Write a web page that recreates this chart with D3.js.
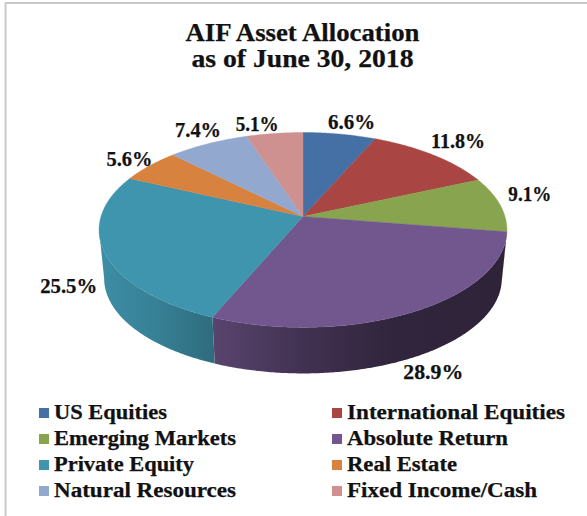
<!DOCTYPE html>
<html><head><meta charset="utf-8">
<script src="https://cdn.jsdelivr.net/npm/d3@7"></script>
<style>html,body{margin:0;padding:0;background:#fff}svg{display:block}text{font-family:"Liberation Serif",serif;font-weight:700;fill:#111;stroke:#111;stroke-width:0.25px}</style>
</head><body><div id="chart"></div>
<script>
const categories = ["US Equities","International Equities","Emerging Markets","Absolute Return","Private Equity","Real Estate","Natural Resources","Fixed Income/Cash"];
const values = [6.6,11.8,9.1,28.9,25.5,5.6,7.4,5.1];
const colors = ["#4470a6","#a94543","#88a44e","#72578e","#4095ae","#d88240","#92a8ce","#cf9190"];
const titleLines = ["AIF Asset Allocation","as of June 30, 2018"];

// layout only
const W=587,H=516, persp=0.138, depth=48.8, lowerScale=0.975;
const labelNudge=[[12,-11],[25,-13],[30,-9],[19,61],[-36,34],[-20,-6],[-10,-13],[-17.5,-8]];
const labelWidths=[47,54,43,60,57,46,46,43];
const titleWidths=[234,222];
const legendWidths=[113,218,182,161,140,110,182,190];

const x=d3.scaleLinear().domain([-1,1]).range([101,505]);
const y=d3.scaleLinear().domain([-1,1]).range([312.1,120.9]);
const svg=d3.select("#chart").append("svg").attr("width",W).attr("height",H);
svg.append("rect").attr("width",W).attr("height",H).attr("fill","#fff");
svg.append("line").attr("x1",5).attr("x2",W).attr("y1",3).attr("y2",3).attr("stroke","#c9c9c9").attr("stroke-width",2);
svg.append("line").attr("x1",5.5).attr("x2",5.5).attr("y1",3).attr("y2",H).attr("stroke","#c9c9c9").attr("stroke-width",2);

// homography of the unit disc: far edge shrinks, near edge grows
function project(t,r=1,lower=false){
  const u=r*Math.sin(t),v=r*Math.cos(t),w=1+persp*v;
  const s=lower?lowerScale:1;
  const px=x(0)+(x(u/w)-x(0))*s, py=y(0)+(y(v/w)-y(0))*s+(lower?depth:0);
  return [px,py];
}
const pie=d3.pie().sort(null).value(d=>d).startAngle(0).endAngle(2*Math.PI);
const arcs=pie(values);
const line=d3.line();
const rim=(a,b,lower=false)=>{const n=Math.max(2,Math.ceil((b-a)/0.01));return d3.range(n+1).map(i=>project(a+(b-a)*i/n,1,lower));};

const silhouette=Math.acos(-persp), silhouetteL=2*Math.PI-silhouette;
const defs=svg.append("defs");
// side wall
arcs.forEach((d,i)=>{
  const a=Math.max(d.startAngle,silhouette), b=Math.min(d.endAngle,silhouetteL);
  if(b<=a) return;
  const top=rim(a,b), bot=rim(a,b,true).reverse();
  const id="wall"+i, base=d3.color(colors[i]);
  const xs=top.concat(bot).map(p=>p[0]);
  const g=defs.append("linearGradient").attr("id",id).attr("gradientUnits","userSpaceOnUse")
    .attr("x1",d3.min(xs)).attr("x2",d3.max(xs)).attr("y1",0).attr("y2",0);
  const stops = i===3 ? [[0,0.78],[0.3,0.58],[0.62,0.42],[1,0.40]] : i===4 ? [[0,0.95],[0.5,0.86],[1,0.72]] : [[0,0.6],[1,0.6]];
  stops.forEach(s=>{const c=d3.rgb(base.r*s[1],base.g*s[1],base.b*s[1]);g.append("stop").attr("offset",s[0]).attr("stop-color",c);});
  svg.append("path").attr("d",line(top.concat(bot))+"Z").attr("fill",`url(#${id})`);
});
// top face
svg.selectAll("path.slice").data(arcs).join("path").attr("class","slice")
  .attr("d",d=>line([[x(0),y(0)],...rim(d.startAngle,d.endAngle)])+"Z")
  .attr("fill",(d,i)=>colors[i]).attr("stroke",(d,i)=>colors[i]).attr("stroke-width",0.4);
// value labels
svg.selectAll("text.val").data(arcs).join("text").attr("class","val")
  .attr("text-anchor","middle").attr("font-size",20)
  .attr("x",(d,i)=>project((d.startAngle+d.endAngle)/2)[0]+labelNudge[i][0])
  .attr("y",(d,i)=>project((d.startAngle+d.endAngle)/2)[1]+labelNudge[i][1]+6)
  .attr("textLength",(d,i)=>labelWidths[i]).attr("lengthAdjust","spacingAndGlyphs")
  .text(d=>d.value.toFixed(1)+"%");
// title
svg.selectAll("text.title").data(titleLines).join("text").attr("class","title")
  .attr("x",302.5).attr("y",(d,i)=>41+i*26).attr("text-anchor","middle").attr("font-size",25)
  .attr("textLength",(d,i)=>titleWidths[i]).attr("lengthAdjust","spacingAndGlyphs").text(d=>d);
// legend
const lx=i=>i%2?332:39, ly=i=>413+Math.floor(i/2)*26;
const leg=svg.selectAll("g.leg").data(categories).join("g").attr("class","leg");
leg.append("rect").attr("x",(d,i)=>lx(i)).attr("y",(d,i)=>ly(i)-5).attr("width",10).attr("height",10).attr("fill",(d,i)=>colors[i]);
leg.append("text").attr("x",(d,i)=>lx(i)+15).attr("y",(d,i)=>ly(i)+6).attr("font-size",20)
  .attr("textLength",(d,i)=>legendWidths[i]).attr("lengthAdjust","spacingAndGlyphs").text(d=>d);
</script></body></html>
